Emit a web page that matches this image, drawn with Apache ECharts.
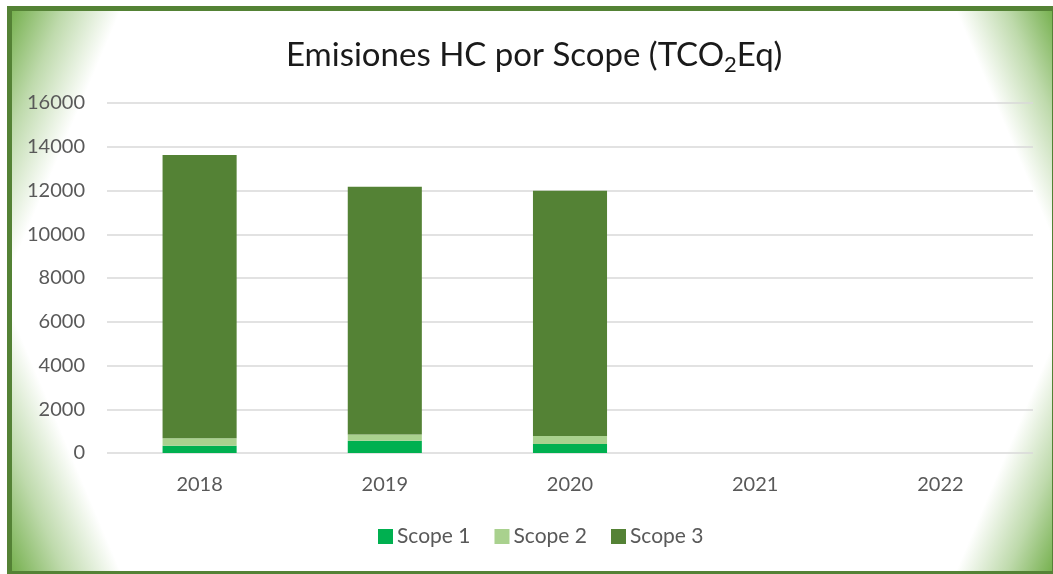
<!DOCTYPE html>
<html>
<head>
<meta charset="utf-8">
<script src="https://cdn.jsdelivr.net/npm/echarts@6/dist/echarts.min.js"></script>
<style>
  html, body { margin: 0; padding: 0; background: #ffffff; overflow: hidden; }
  #frame {
    position: absolute; left: 7px; top: 6px; width: 1050px; height: 570px;
    box-sizing: border-box; border: 5px solid #548235;
    background:
      linear-gradient(113deg, rgba(112,173,71,0.95) 0%, rgba(112,173,71,0.45) 4%, rgba(112,173,71,0) 8.5%),
      linear-gradient(247deg, rgba(112,173,71,0.95) 0%, rgba(112,173,71,0.45) 3.5%, rgba(112,173,71,0) 7.5%),
      linear-gradient(67deg, rgba(112,173,71,0.95) 0%, rgba(112,173,71,0.45) 4%, rgba(112,173,71,0) 8.5%),
      linear-gradient(293deg, rgba(112,173,71,0.95) 0%, rgba(112,173,71,0.45) 3.5%, rgba(112,173,71,0) 7.5%),
      #ffffff;
  }
  #chart { position: absolute; left: 0; top: 0; width: 1053px; height: 574px; }
</style>
</head>
<body>
<div id="frame"></div>
<div id="chart"></div>
<script>
// Emissions per scope, tonnes CO2 equivalent
const years = ['2018', '2019', '2020', '2021', '2022'];
const scope1 = [330, 560, 410, null, null];
const scope2 = [340, 290, 365, null, null];
const scope3 = [12950, 11320, 11215, null, null];
const seriesNames = ['Scope 1', 'Scope 2', 'Scope 3'];
const seriesColors = ['#00B050', '#A9D18E', '#548235'];

const FONT = 'Lato, "Open Sans", sans-serif';
const chart = echarts.init(document.getElementById('chart'), null, { renderer: 'canvas' });

const makeBar = (name, data, color) => ({
  name: name,
  type: 'bar',
  stack: 'total',
  barWidth: '40%',
  data: data,
  itemStyle: { color: color },
  emphasis: { disabled: true }
});

chart.setOption({
  backgroundColor: 'transparent',
  animation: false,
  title: {
    text: '{a|Emisiones HC por Scope (TCO}{s|2}{a|Eq)}',
    left: 281,
    top: 29,
    textStyle: {
      fontWeight: 'normal',
      rich: {
        a: { fontFamily: FONT, fontSize: 33, fontWeight: 'normal', color: '#1a1a1a', lineHeight: 42 },
        s: { fontFamily: FONT, fontSize: 22, fontWeight: 'normal', color: '#1a1a1a', lineHeight: 42, verticalAlign: 'bottom', padding: [16, 0, 0, 0] }
      }
    }
  },
  legend: {
    bottom: 22,
    left: 373,
    itemWidth: 15,
    itemHeight: 15,
    itemGap: 24,
    icon: 'rect',
    data: seriesNames,
    textStyle: { fontFamily: FONT, fontSize: 21, color: '#595959', padding: [0, 0, 0, -1] }
  },
  grid: { left: 107, right: 20, top: 103, bottom: 121, containLabel: false },
  xAxis: {
    type: 'category',
    data: years,
    axisLine: { show: false },
    axisTick: { show: false },
    axisLabel: { fontFamily: FONT, fontSize: 20, color: '#595959', margin: 22 }
  },
  yAxis: {
    type: 'value',
    min: 0,
    max: 16000,
    interval: 2000,
    axisLine: { show: false },
    axisTick: { show: false },
    axisLabel: { fontFamily: FONT, fontSize: 20, color: '#595959', margin: 22, formatter: (v) => String(v) },
    splitLine: { lineStyle: { color: '#d9d9d9', width: 1.5 } }
  },
  series: [
    makeBar(seriesNames[0], scope1, seriesColors[0]),
    makeBar(seriesNames[1], scope2, seriesColors[1]),
    makeBar(seriesNames[2], scope3, seriesColors[2])
  ]
});
</script>
</body>
</html>
